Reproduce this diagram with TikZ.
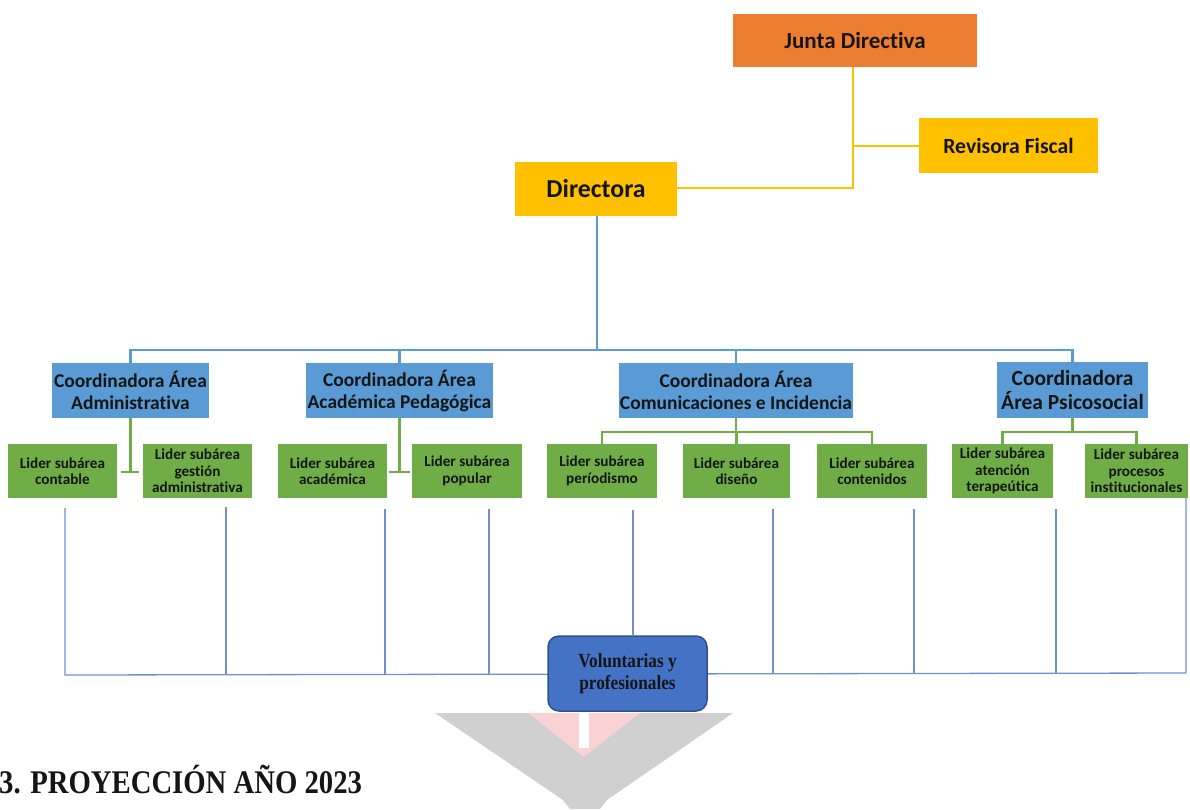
\documentclass[tikz,border=0pt]{standalone}
\usepackage{fontspec}
\setmainfont{Carlito}[Ligatures={NoCommon}]
\newfontfamily\tnr{Liberation Serif}
\definecolor{jorange}{HTML}{ED7D31}
\definecolor{jgold}{HTML}{FFC000}
\definecolor{jblue}{HTML}{5B9BD5}
\definecolor{jgreen}{HTML}{70AD47}
\definecolor{jdblue}{HTML}{4472C4}
\definecolor{jborder}{HTML}{2F528F}
\definecolor{jthin}{HTML}{7090D0}
\definecolor{jgray}{HTML}{D0D0D0}
\definecolor{jpink}{HTML}{F9D3D3}
\definecolor{jtext}{HTML}{151515}
\begin{document}
\begin{tikzpicture}[x=1pt,y=-1pt,
  box/.style={inner sep=0pt,align=center,text=jtext,font=\bfseries},
  topbox/.style={box,minimum height=54pt},
  coordbox/.style={box,fill=jblue,minimum height=55pt,font=\bfseries\fontsize{19.5}{22}\selectfont},
  leadbox/.style={box,fill=jgreen,minimum height=54pt,font=\bfseries\fontsize{15.2}{16.5}\selectfont},
  yline/.style={draw=jgold,line width=2pt},
  bline/.style={draw=jblue,line width=2.6pt},
  gline/.style={draw=jgreen,line width=2.4pt},
  tline/.style={draw=jthin,line width=1.3pt},
]
\fill[white] (0,0) rectangle (1190,809);
\useasboundingbox (0,0) rectangle (1190,809);

% top level
\node[topbox,fill=jorange,minimum width=244pt,minimum height=53pt,font=\bfseries\fontsize{23}{27}\selectfont] (jd) at (855,40.5) {Junta Directiva};
\node[topbox,fill=jgold,minimum width=179pt,minimum height=55pt,font=\bfseries\fontsize{21.7}{25}\selectfont] (rf) at (1008.5,145.5) {Revisora Fiscal};
\node[topbox,fill=jgold,minimum width=162pt,font=\bfseries\fontsize{25.8}{30}\selectfont] (dir) at (596,189) {Directora};

% coordinators
\node[coordbox,minimum width=157pt] (ca) at (130.5,390.5) {Coordinadora Área\\Administrativa};
\node[coordbox,minimum width=187pt] (cp) at (399.5,390.5) {Coordinadora Área\\Académica Pedagógica};
\node[coordbox,minimum width=234pt] (cc) at (736,390.5) {Coordinadora Área\\Comunicaciones e Incidencia};
\node[coordbox,minimum width=151pt,minimum height=56pt,font=\bfseries\fontsize{21.5}{24}\selectfont] (cs) at (1072.5,390) {Coordinadora\\Área Psicosocial};

% leaders
\node[leadbox,minimum width=109pt] (g1) at (62.5,471) {Lider subárea\\contable};
\node[leadbox,minimum width=109pt] (g2) at (197.5,471) {Lider subárea\\gestión\\administrativa};
\node[leadbox,minimum width=109pt] (g3) at (332.5,471) {Lider subárea\\académica};
\node[leadbox,minimum width=110pt] (g4) at (467,471) {Lider subárea\\popular};
\node[leadbox,minimum width=110pt] (g5) at (602,471) {Lider subárea\\períodismo};
\node[leadbox,minimum width=107pt] (g6) at (736.5,471) {Lider subárea\\diseño};
\node[leadbox,minimum width=110pt] (g7) at (872,471) {Lider subárea\\contenidos};
\node[leadbox,minimum width=101pt] (g8) at (1002.5,471) {Lider subárea\\atención\\terapeútica};
\node[leadbox,minimum width=103pt] (g9) at (1136.5,471) {Lider subárea\\procesos\\institucionales};

% yellow connectors
\coordinate (yj) at (853,188);
\coordinate (yr) at (853,145.5);
\draw[yline] (jd.south -| yj) -- (yj) -- (yj -| dir.east);
\draw[yline] (yr) -- (rf.west);

% blue connectors
\coordinate (bus) at (597,350);
\draw[bline] (dir.south -| bus) -- (bus);
\draw[bline] (ca.north) |- (bus) -| (cs.north);
\draw[bline] (cp.north) -- (cp.north |- bus);
\draw[bline] (cc.north) -- (cc.north |- bus);

% green connectors
\coordinate (ta) at (130.5,472);
\coordinate (tp) at (399.5,472);
\draw[gline] (ca.south) -- (ta);
\draw[gline] ([xshift=-10pt]ta) -- ([xshift=8pt]ta);
\draw[gline] (cp.south) -- (tp);
\draw[gline] ([xshift=-11pt]tp) -- ([xshift=10pt]tp);
\coordinate (tc) at (736,432);
\draw[gline] (cc.south) -- (tc);
\draw[gline] (g5.north) |- (tc) -| (g7.north);
\draw[gline] (g6.north) -- (g6.north |- tc);
\coordinate (ts) at (1072.5,432);
\draw[gline] (cs.south) -- (ts);
\draw[gline] (g8.north) |- (ts) -| (g9.north);

% voluntarias connectors
\coordinate (u1) at (65,508);   \coordinate (b1) at (65,675);
\coordinate (u2) at (226,507);  \coordinate (b2) at (226,674.5);
\coordinate (u3) at (385,509);  \coordinate (b3) at (385,674);
\coordinate (u4) at (489,509);  \coordinate (b4) at (489,673.5);
\coordinate (u5) at (633,510);
\coordinate (u6) at (773,509);  \coordinate (b6) at (773,673);
\coordinate (u7) at (914,509);  \coordinate (b7) at (914,673);
\coordinate (u8) at (1056,509); \coordinate (b8) at (1056,673);
\coordinate (u9) at (1186,498); \coordinate (b9) at (1186,673);
\draw[tline] (u1) -- (b1) -- (b9) -- (u9);
\foreach \i in {2,3,4,6,7,8} {\draw[tline] (u\i) -- (b\i);}

\node[draw=jborder,line width=1.5pt,fill=jdblue,rounded corners=11pt,minimum width=159pt,minimum height=75pt,inner sep=0pt,align=center,text=jtext,
  font=\tnr\bfseries\fontsize{20}{22}\selectfont] (vol) at (627.5,673.5) {\scalebox{0.86}[1]{Voluntarias y}\\\scalebox{0.86}[1]{profesionales}};
\draw[tline] (u5) -- (u5 |- vol.north);

% funnel graphic
\fill[jgray] (435,713) -- (733,713) -- (607,800) -- (600,809) -- (570,809) -- (563,800) -- cycle;
\fill[jpink] (528,713) -- (640,713) -- (583.5,757) -- cycle;
\fill[white] (579,713) rectangle (589,748);

% heading
\node[anchor=base west,inner sep=0pt,text=jtext,font=\tnr\bfseries\fontsize{33}{38}\selectfont] (head) at (-1,793) {\scalebox{0.87}[1]{3. PROYECCIÓN AÑO 2023}};
\end{tikzpicture}
\end{document}
